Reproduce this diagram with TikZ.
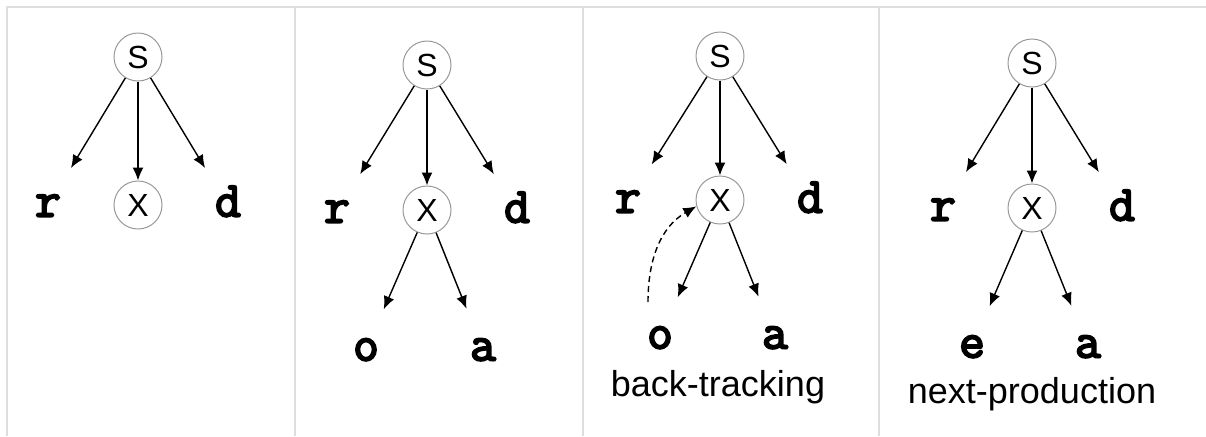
\documentclass[tikz,border=0pt]{standalone}
\usepackage{fontspec}
\setmainfont{Liberation Sans}
\newfontfamily\leaffont[FakeBold=4]{Latin Modern Mono}
\usepackage{tikz}
\usetikzlibrary{shapes,arrows.meta,positioning}

\begin{document}
\begin{tikzpicture}[
        x=0.5pt, y=-0.5pt,
        % Define styles for the parse tree parts
        nonterm/.style={
            circle,
            draw=black!40,
            line width=0.5pt,
            minimum size=24pt,
            inner sep=0pt,
            font=\fontsize{16}{16}\selectfont
        },
        term/.style={
            circle,
            minimum size=44pt,
            inner sep=0pt,
            text height=10.5pt,
            text depth=0pt,
            font=\fontsize{25}{25}\selectfont\leaffont
        },
        caption/.style={
            font=\fontsize{18}{18}\selectfont
        },
        arrow/.style={
            -{Latex[length=6.5pt,width=5.5pt]},
            line width=0.7pt
        },
        backtrack/.style={
            arrow,
            densely dashed
        },
        grid/.style={
            draw=black!13,
            line width=1pt
        }
    ]
    \useasboundingbox (0,0) rectangle (1206,436);

    % Table lines between the steps
    \draw[grid] (7,436) -- (7,7) -- (1206,7);
    \foreach \x in {295,583,879} {
        \draw[grid] (\x,7) -- (\x,436);
    }

    % Step 1: expand S
    \node[nonterm] (s1) at (138,57) {S};
    \node[term] (r1) at (48,206) {r};
    \node[nonterm] (x1) at (138,205) {X};
    \node[term] (d1) at (228,206) {d};
    \foreach \c in {r1,x1,d1} {
        \draw[arrow] (s1) -- (\c);
    }

    % Step 2: expand X with first production
    \node[nonterm] (s2) at (427,65) {S};
    \node[term] (r2) at (337,212) {r};
    \node[nonterm] (x2) at (427,210) {X};
    \node[term] (d2) at (517,212) {d};
    \node[term] (o2) at (366,350) {o};
    \node[term] (a2) at (483,350) {a};
    \foreach \c in {r2,x2,d2} {
        \draw[arrow] (s2) -- (\c);
    }
    \foreach \c in {o2,a2} {
        \draw[arrow] (x2) -- (\c);
    }

    % Step 3: mismatch, go back to X
    \node[nonterm] (s3) at (720,56) {S};
    \node[term] (r3) at (628,202) {r};
    \node[nonterm] (x3) at (720,200) {X};
    \node[term] (d3) at (810,202) {d};
    \node[term] (o3) at (660,338) {o};
    \node[term] (a3) at (775,338) {a};
    \foreach \c in {r3,x3,d3} {
        \draw[arrow] (s3) -- (\c);
    }
    \foreach \c in {o3,a3} {
        \draw[arrow] (x3) -- (\c);
    }
    \coordinate (bt) at (648,302);
    \draw[backtrack] (bt) to[out=90,in=210] (x3.195);
    \node[caption] (cap3) at (718,387) {back-tracking};

    % Step 4: try the next production
    \node[nonterm] (s4) at (1032,63) {S};
    \node[term] (r4) at (943,210) {r};
    \node[nonterm] (x4) at (1032,208) {X};
    \node[term] (d4) at (1122,210) {d};
    \node[term] (e4) at (972,347) {e};
    \node[term] (a4) at (1088,347) {a};
    \foreach \c in {r4,x4,d4} {
        \draw[arrow] (s4) -- (\c);
    }
    \foreach \c in {e4,a4} {
        \draw[arrow] (x4) -- (\c);
    }
    \node[caption] (cap4) at (1032,394) {next-production};

\end{tikzpicture}
\end{document}
